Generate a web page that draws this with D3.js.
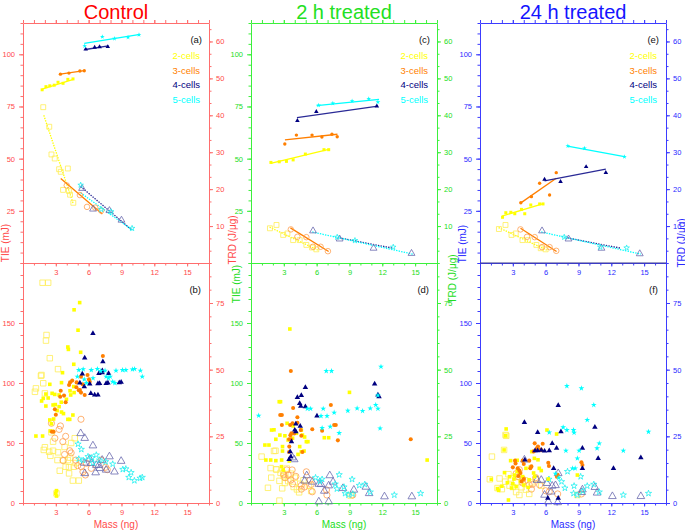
<!DOCTYPE html>
<html><head><meta charset="utf-8">
<script src="https://cdn.jsdelivr.net/npm/d3@7"></script>
<style>
body{margin:0;background:#fff}
svg{display:block}
text{font-family:"Liberation Sans",Arial,sans-serif}
</style>
</head><body>
<svg id="chart" width="685" height="532"></svg>
<script>
// ---------------- DATA ----------------
const cellLabels = ["2-cells", "3-cells", "4-cells", "5-cells"];
const panelTitles = ["Control", "2 h treated", "24 h treated"];
const panelTags = [["(a)", "(b)"], ["(c)", "(d)"], ["(e)", "(f)"]];
const massTicks = [3, 6, 9, 12, 15];
const tieTopTicks = [25, 50, 75, 100];
const trdTopTicks = [10, 20, 30, 40, 50, 60];
const tieBotTicks = [0, 50, 100, 150];
const trdBotTicks = [0, 25, 50, 75];
const xLabel = "Mass (ng)";
const tieLabel = "TIE (mJ)";
const trdLabel = "TRD (J/\u03bcg)";

// ---- Control, top panel (a): [mass, value] per cell-stage (2,3,4,5 cells)
const aTIE = [
  [[1.75,83],[2.1,84.5],[2.45,84.9],[2.85,85.2],[3.2,86.6],[3.66,86.1],[4.1,88],[4.57,88.2]],
  [[3.42,90.5],[4.2,91],[5.2,92],[5.6,92.1]],
  [[5.73,102.4],[6.55,103.3],[7.0,103.5],[7.75,103.6]],
  [[5.64,104],[7.25,108.4],[8.36,107.5],[9.6,108.1],[10.6,109.4]]
];
const aTIEfit = [[1.75,83.3,4.6,88],[3.4,90.5,5.6,92.2],[5.7,102.3,7.8,104],[5.6,105.2,10.7,109.5]];
const aTRD = [
  [[1.85,42.2],[2.4,36.9],[2.6,29.4],[2.9,28.3],[3.3,25.4],[3.45,24.7],[4.1,25.6],[3.66,19.8],[4.2,19.5],[4.3,18.5],[4.6,16.3]],
  [[4.0,21],[5.2,18.4],[5.85,15.2],[6.6,15],[7.15,14.2]],
  [[5.4,20.2],[6.4,14.6],[7.9,14.2],[9.0,11.6]],
  [[5.27,21.1],[7.15,14.5],[8.06,13.9],[9.97,9.4]]
];
const aTRDfit = [[1.9,40,4.6,16],[3.45,22.9,7.25,13.3],[5.27,20.7,9.97,8.9],[5.27,19,10,8.9]];

// ---- Control, bottom panel (b)
const bTIE = [
  [[5.18,167],[4.67,161],[5.03,144],[4.1,130],[4.15,128],[5.27,125.6],[4.64,115.6],[3.61,108.6],[2.45,98.9],[3.52,100.3],[2.66,91.4],[2.09,90.8],[2.9,90.5],[1.85,87.2],[1.7,85],[2.3,87.5],[2.75,81.7],[2.09,80.8],[3.3,80.3],[3.5,84],[4.36,90],[4.67,92],[4.64,97],[4.3,93.5],[3.97,86.4],[3.52,75.8],[3.7,74.5],[3.12,77],[2.8,70],[2.95,82],[4.27,69.7],[4.1,69.7],[2.45,69.2],[2.6,66],[1.18,55.8],[1.79,55.8],[3.0,8.1],[3.06,5.8],[4.56,73.3],[3.06,10.3],[3.3,90],[2.5,60]],
  [[4.21,98.3],[4.3,100.5],[5.3,105.3],[5.9,106.7],[6.03,103],[6.1,101],[5.45,99],[5.2,94.2],[5.3,92],[5.64,90],[3.45,93.6],[3.4,88.5],[3.75,89.5],[2.91,78.1],[3.0,73.5],[2.64,59.4],[2.8,59.4],[4.88,96.4],[4.9,100.5],[5.1,94],[7.3,122.5],[4.5,102],[3.9,84]],
  [[6.39,141.4],[5.64,121],[7.3,117.8],[7.25,110.3],[6.94,108],[7.82,108],[7.24,108.6],[7.6,99.7],[8.97,100.6],[6.1,99.2],[6.85,99.5],[7.0,99.6],[7.76,100],[8.8,100.3],[6.2,91.4],[6.55,90],[6.85,90],[5.42,107.5],[5.2,100],[5.6,97]],
  [[4.97,105.3],[5.1,110.8],[5.5,111.5],[6.24,110.8],[6.8,111.7],[7.1,110],[7.5,110.3],[8.5,110.3],[9.1,110.8],[9.4,110.8],[10.0,111.4],[10.2,111.7],[10.73,110.3],[10.9,105.3],[7.6,105.3],[7.8,104],[8.2,101],[8.4,100],[7.97,105.3],[6.4,104],[5.8,100],[5.6,103]]
];
const bTRD = [
  [[1.79,82.6],[2.3,82.6],[2.15,63],[2.1,60.9],[2.45,54.3],[3.2,50.2],[1.64,47.7],[1.85,44.9],[1.69,48],[1.18,43],[1.09,41.7],[2.0,41.1],[2.75,23],[2.6,26.5],[2.0,20.9],[1.9,19.9],[2.39,19.2],[2.75,19.6],[2.5,17.7],[3.2,19],[3.15,16.1],[3.67,16.1],[4.1,16.1],[3.9,13.6],[4.2,13.4],[4.64,13.6],[3.36,12.1],[4.21,11.1],[4.56,8.4],[5.1,8.4],[4.73,24.3],[4.4,22.5],[3.06,3.6],[4.3,17],[3.8,21],[4.8,15]],
  [[5.3,31.4],[3.42,28.9],[3.3,27.6],[2.91,24.3],[3.64,23],[2.6,29.9],[3.9,25],[4.27,19.6],[3.67,15.9],[4.82,16.1],[5.33,13.6],[5.48,11.7],[5.0,14],[5.79,14.9],[6.24,13],[7.55,13.4],[7.7,12.5],[7.15,16.1],[4.4,18.8],[3.8,18.2],[5.7,10.5]],
  [[5.27,26.1],[5.64,24.3],[6.39,21.5],[7.9,17.4],[8.97,15.7],[8.36,11.7],[6.64,11.4],[6.94,14.2],[7.6,12.4],[7.24,16.1],[6.7,14.2],[6.24,14.9],[5.64,11.1],[7.0,13],[5.6,15],[6.1,16.5]],
  [[5.03,22.1],[5.33,20.1],[5.94,17.4],[6.3,17],[7.0,16.1],[7.55,15.5],[8.2,14.6],[9.12,12.6],[9.4,12.8],[9.88,11.4],[9.67,9.6],[10.18,8.4],[10.7,9.3],[10.9,9.6],[6.7,18],[5.5,16],[5.1,16.5],[6.4,15]]
];

// ---- 2 h treated, top panel (c)
const cTIE = [
  [[1.82,48.2],[2.58,48.5],[3.24,48.7],[3.85,49.4],[4.97,52.2],[6.67,54.3],[7.1,54.3]],
  [[3.09,57],[4.15,61.3],[5.58,61.3],[6.48,60.4],[7.4,61.7],[7.88,60.5]],
  [[4.24,68.2],[5.97,72.5],[11.5,75.2]],
  [[6.18,75.6],[7.48,76.5],[9.24,77.6],[10.76,78.7],[11.6,77.1]]
];
const cTIEfit = [[1.8,47.7,7.1,54.4],[3.1,59,7.9,61.7],[4.2,69.7,11.6,75.2],[6.0,75.4,11.7,78.4]];
const cTRD = [
  [[1.73,9.4],[2.33,10.3],[2.94,7.6],[3.33,8.0],[3.85,6.2],[4.45,6.2],[5.06,4.9],[5.58,4.2],[5.97,3.7]],
  [[3.64,9.1],[4.24,7.1],[5.06,7.0],[5.67,4.4],[6.36,4.4],[7.03,3.2]],
  [[5.67,8.7],[8.1,6.5],[11.2,4.0],[14.67,2.6]],
  [[7.88,7.0],[9.5,6.1],[13.0,4.3]]
];
const cTRDfit = [[1.7,9.7,6.1,3.5],[3.6,9.5,7.1,3.1],[8.1,6.8,13.0,4.0],[5.6,8.4,14.8,2.4]];

// ---- 2 h treated, bottom panel (d)
const dTIE = [
  [[3.55,145],[9.0,92.2],[2.58,84.4],[2.7,84.4],[16.1,35.8],[1.88,60.8],[2.64,56.6],[3.1,56],[2.27,53.1],[1.27,48.3],[1.64,48.3],[1.36,35.8],[1.8,35.8],[2.27,35.3],[2.8,35.8],[2.88,47],[2.88,43.3],[3.39,52.5],[3.8,54],[4.15,58.1],[4.6,60.8],[4.7,56.6],[5.06,51.1],[5.2,51.1],[4.45,47],[4.6,42.7],[4.85,43.3],[6.7,54.4],[7.1,54.4],[2.79,30.3],[2.94,27.5],[3.85,64.2],[3.3,66.4],[2.1,61],[4.9,55],[3.5,35],[4.3,40.5]],
  [[3.64,110],[3.85,79.2],[2.67,73.3],[2.82,73.3],[2.82,65],[3.58,65],[3.8,66.5],[4.24,66.9],[3.7,58.1],[3.95,58],[3.6,56.5],[3.48,53.1],[3.65,53],[4.55,60.8],[4.24,71.4],[5.6,61.4],[6.5,60.3],[7.3,81.7],[7.6,65],[7.75,65],[7.94,52.2],[14.6,53.1],[3.5,47],[3.48,42.5],[4.6,56],[4.7,42.5]],
  [[4.97,96.4],[4.24,88],[4.6,89.7],[4.45,83],[4.55,80.6],[4.97,80.3],[6.03,72.5],[4.0,60.8],[4.1,59.5],[3.7,51.1],[3.58,42.8],[3.64,38.6],[3.48,36.4],[11.3,99.2],[11.7,88.6],[11.6,90],[4.5,64],[4.1,66]],
  [[0.7,72.8],[5.15,78.6],[5.45,78.6],[6.6,78.6],[6.4,72.5],[7.6,75.3],[8.85,76.9],[9.7,78.9],[10.2,76.7],[10.9,78.9],[11.4,81.7],[11.6,78.6],[6.88,110],[7.36,110],[11.88,113.6],[11.6,89.7],[7.24,63.6],[6.5,62.5],[8.06,58.3],[11.8,62.2],[6.95,72.5]]
];
const dTRD = [
  [[0.97,17.4],[2.1,19.5],[2.3,12.6],[1.55,5.7],[2.6,0.9],[2.24,19.6],[1.79,13.1],[2.33,12.6],[2.7,11.3],[2.95,11],[3.27,12.9],[3.64,11],[2.85,5.5],[3.1,7.5],[3.4,8.2],[3.9,6],[4.2,5.1],[4.5,7.2],[4.8,8.5],[5.3,6.5],[5.5,4.5],[2.6,8.3],[3.0,10],[4.0,9.5],[1.85,9.5],[4.4,4],[9.1,2.8]],
  [[3.27,12.4],[3.4,10.5],[3.64,8.6],[3.1,9.5],[3.0,10.6],[3.79,7.2],[4.6,6.6],[4.9,6.0],[5.4,8.6],[5.5,7],[5.6,4.2],[6.94,3.0],[6.9,4.9],[9.3,3.0],[4.6,5.2],[5.06,11.7],[3.76,12.4],[4.1,10]],
  [[5.09,10.3],[7.2,10.3],[4.9,8.3],[5.6,7.9],[6.2,7.1],[7.5,7.9],[7.1,6.5],[6.7,4.5],[8.4,5.5],[9.4,4.9],[10.5,6.0],[10.8,3.6],[6.2,0.5],[7.1,0.5],[12.2,2.4],[14.7,2.4],[3.95,16.3],[3.8,17],[6.4,7]],
  [[8.06,10.6],[9.24,8.9],[6.3,8.2],[7.7,7.1],[7.85,5.3],[8.5,6.0],[8.6,3.6],[8.9,3.0],[9.9,6.6],[10.4,7.0],[10.9,4.1],[13.1,3.0],[15.5,3.6],[9.3,3.4],[6.5,8.9],[5.9,9.5]]
];

// ---- 24 h treated, top panel (e)
const eTIE = [
  [[2.06,21.9],[2.36,24.1],[2.82,24.3],[3.18,23.6],[3.79,25.7],[4.09,23.6],[4.64,27.8],[5.45,28.3],[5.76,28.3]],
  [[3.73,28.9],[4.7,31.8],[5.45,38.2],[6.36,32.6],[6.97,43.3]],
  [[5.9,40.1],[7.36,39.0],[9.7,46.1],[11.5,43.3]],
  [[8.03,56.1],[9.55,55.0],[13.2,50.9]]
];
const eTIEfit = [[2.0,22.5,5.8,28.5],[3.7,28.7,6.97,40.6],[5.9,39.4,11.5,45],[8.0,56,13.2,51]];
const eTRD = [
  [[1.73,9.2],[2.33,10.3],[2.88,7.6],[3.27,8.0],[3.88,6.2],[4.39,6.2],[5.15,4.9],[5.55,4.0],[6.0,3.7]],
  [[3.7,9.1],[4.3,7.1],[5.0,7.0],[5.67,4.3],[6.36,4.3],[6.97,3.3]],
  [[5.67,8.7],[8.09,6.5],[11.1,4.0],[14.6,2.5]],
  [[7.7,7.0],[11.0,4.3],[13.4,4.1]]
];
const eTRDfit = [[1.7,9.6,6.1,3.5],[3.7,9.4,7.0,3.1],[8.0,6.8,12.9,4.0],[5.6,8.4,14.7,2.4]];

// ---- 24 h treated, bottom panel (f)
const fTIE = [
  [[2.39,61.7],[2.35,56],[6.12,60.8],[7.0,57.5],[2.2,44.2],[4.73,42.8],[2.8,35.3],[3.4,35.6],[4.97,37.2],[5.3,36],[1.03,19.7],[2.24,25.3],[2.7,21.9],[3.15,23.3],[4.2,28.9],[4.9,25],[5.42,28.9],[5.6,27],[4.5,19.4],[3.7,18.1],[6.24,20],[8.9,23.3],[2.6,2.5],[3.0,16],[3.3,13.7],[4.0,15],[2.5,17],[1.6,12],[1.7,10.5],[3.6,25.6],[4.6,30],[3.9,22],[2.9,12.5],[5.0,22],[4.4,13],[3.1,20],[2.0,14],[3.4,26.5]],
  [[5.0,49.7],[5.3,47],[5.73,49.4],[5.2,45.6],[5.6,44],[4.9,43],[6.24,33.6],[6.3,30.8],[3.9,35.3],[4.0,32.5],[3.2,35.3],[3.25,33],[3.0,29.7],[3.45,29],[3.6,27],[3.7,25],[4.6,28.9],[4.5,35.3],[7.03,21.9],[7.1,23.5],[9.27,34],[9.36,31.6],[3.5,22.5],[4.0,20],[5.55,44.5],[4.7,30.5],[3.8,18]],
  [[7.15,81.4],[4.06,67.2],[10.5,63.1],[5.27,58.8],[7.4,59.4],[6.6,49.7],[7.0,45.6],[5.03,43.6],[5.27,43.6],[5.9,43.3],[6.33,43.6],[9.36,45.6],[10.8,37.2],[14.7,37.8],[12.2,28.9],[6.73,28.9],[9.36,28.9],[6.2,4.0],[7.15,4.0],[5.6,44],[4.1,36]],
  [[7.94,97.5],[9.27,95.6],[10.4,81.7],[9.8,69.2],[7.6,63.1],[7.94,60.8],[8.55,60.8],[8.6,58.6],[6.33,58.8],[10.9,49.7],[10.7,45.6],[7.85,43.6],[9.06,43.6],[8.9,37.2],[8.45,28.9],[8.7,28.9],[13.1,43.6],[15.4,59.4],[7.2,21],[6.9,24.5]]
];
const fTRD = [
  [[1.09,17.4],[2.4,25.2],[2.33,25.5],[2.2,19.9],[1.79,9.2],[2.0,5.2],[2.7,6.5],[2.85,9.2],[3.3,7.7],[3.8,5.9],[4.5,3.4],[3.3,4.1],[4.7,7.7],[5.1,9.0],[1.6,5.6],[8.9,3.0],[2.6,10.8],[3.5,10.5],[4.1,8.5],[2.3,8],[3.0,6],[4.2,5],[0.9,8.9],[5.6,6.5],[3.6,3]],
  [[3.9,9.0],[4.5,6.8],[4.8,7],[5.45,6.8],[6.0,4.6],[6.33,4.2],[7.1,3.4],[9.27,3.4],[4.7,5.2],[5.1,9.5],[3.5,9.9],[3.3,11],[3.6,12.5],[3.9,7.5]],
  [[4.06,16.2],[7.15,11.1],[5.2,8.6],[5.6,8.6],[6.12,7.4],[6.6,6.4],[6.9,6.6],[6.5,4.2],[5.9,3.0],[6.24,0.5],[7.1,0.2],[10.5,5.9],[9.36,5.0],[10.7,3.8],[12.1,2.5],[14.7,2.5],[9.3,4]],
  [[8.0,11.8],[9.2,9.9],[6.3,8.9],[7.45,8.0],[7.76,5.6],[8.6,6.4],[8.55,3.6],[8.9,3.0],[9.8,6.4],[10.4,7.0],[10.9,4.1],[13.1,3.0],[15.4,3.6],[9.4,4.5]]
];

// ---------------- STYLE ----------------
const themes = [
  {axis: "#ff6e6e", text: "#ff4a4a", title: "#ff0000", mid: "#ff6e6e"},
  {axis: "#3cf03c", text: "#22dd22", title: "#22e022", mid: "#3cf03c"},
  {axis: "#3c3cff", text: "#2a2aff", title: "#1414ff", mid: "#3a3a8a"}
];
const seriesStyle = [
  {fill: "#ffff00", open: "#ffee55", line: "#ffff00", sym: d3.symbolSquare, k: 1.0, kf: 1.0},
  {fill: "#ff7f00", open: "#ffa050", line: "#ff7f00", sym: d3.symbolCircle, k: 1.0, kf: 1.0},
  {fill: "#000080", open: "#6a6aae", line: "#2a2a96", sym: d3.symbolTriangle, k: 0.85, kf: 1.0},
  {fill: "#00ffff", open: "#22f0f0", line: "#00ffff", sym: d3.symbolStar, k: 0.4, kf: 0.8}
];

const columns = [
  {left: 23,  top: [aTIE, aTIEfit, aTRD, aTRDfit], bot: [bTIE, bTRD],
   tieLab: [5, 243], trdLab: [232, 240]},
  {left: 251, top: [cTIE, cTIEfit, cTRD, cTRDfit], bot: [dTIE, dTRD],
   tieLab: [236, 284], trdLab: [452, 279]},
  {left: 480, top: [eTIE, eTIEfit, eTRD, eTRDfit], bot: [fTIE, fTRD],
   tieLab: [462, 244], trdLab: [681, 243]}
];

const svg = d3.select("#chart");
const W = 186, yTop = 23, yMid = 263, yBot = 503;

function styleAxis(g, th, fs) {
  g.selectAll("path.domain").attr("stroke", th.axis).attr("stroke-width", 1);
  g.selectAll(".tick line").attr("stroke", th.axis).attr("stroke-width", 1);
  g.selectAll(".tick text").attr("fill", th.text).attr("font-size", fs || 7.5)
    .attr("font-family", "Liberation Sans, Arial, sans-serif");
}

function addAxis(parent, axisFn, scale, major, minor, fmt, th, tx, ty, majLen, minLen, pad) {
  const gMin = parent.append("g").attr("transform", `translate(${tx},${ty})`)
    .call(axisFn(scale).tickValues(minor).tickSize(minLen).tickSizeOuter(0).tickFormat(""));
  styleAxis(gMin, th);
  const gMaj = parent.append("g").attr("transform", `translate(${tx},${ty})`)
    .call(axisFn(scale).tickValues(major).tickSize(majLen).tickSizeOuter(0).tickPadding(pad)
      .tickFormat(fmt === null ? "" : d3.format("d")));
  styleAxis(gMaj, th);
  gMaj.select("path.domain").remove();
}

function drawPoints(g, pts, xs, ys, st, open, size) {
  g.selectAll(null).data(pts).enter().append("path")
    .attr("d", d3.symbol().type(st.sym).size(size * (open ? st.k : st.kf)))
    .attr("transform", d => `translate(${xs(d[0])},${ys(d[1])})`)
    .attr("fill", open ? "none" : st.fill)
    .attr("stroke", open ? st.open : "none")
    .attr("stroke-width", open ? 0.8 : 0);
}

function drawFit(g, f, xs, ys, color, dashed) {
  g.append("line")
    .attr("x1", xs(f[0])).attr("y1", ys(f[1]))
    .attr("x2", xs(f[2])).attr("y2", ys(f[3]))
    .attr("stroke", color).attr("stroke-width", 1.3)
    .attr("stroke-dasharray", dashed ? "1.4,1.2" : null);
}

columns.forEach((col, ci) => {
  const th = themes[ci];
  const L = col.left, R = L + W;
  const g = svg.append("g");
  const x = d3.scaleLinear().domain([0, 17]).range([L, R]);
  const yTieT = d3.scaleLinear().domain([0, 115]).range([yMid, yTop]);
  const yTrdT = d3.scaleLinear().domain([0, 65]).range([yMid, yTop]);
  const yTieB = d3.scaleLinear().domain([0, 200]).range([yBot, yMid]);
  const yTrdB = d3.scaleLinear().domain([0, 90]).range([yBot, yMid]);
  const xMinor = d3.range(0, 17.001, 1);

  // ----- top panel axes
  addAxis(g, d3.axisTop, x, massTicks, xMinor, null, th, 0, yTop, 3, 3, 3);
  addAxis(g, d3.axisBottom, x, massTicks, xMinor, "d", th, 0, yMid, 3.5, 2.5, 3);
  addAxis(g, d3.axisLeft, yTieT, tieTopTicks, d3.range(0, 115.01, 5), "d", th, L, 0, 4, 2.5, 4);
  addAxis(g, d3.axisRight, yTrdT, trdTopTicks, d3.range(0, 65, 10 / 3), "d", th, R, 0, 4, 2.5, 3);
  // ----- bottom panel axes
  addAxis(g, d3.axisBottom, x, massTicks, xMinor, "d", th, 0, yBot, 3.5, 2.5, 3);
  addAxis(g, d3.axisLeft, yTieB, tieBotTicks, d3.range(0, 200.01, 10), "d", th, L, 0, 4, 2.5, 4);
  addAxis(g, d3.axisRight, yTrdB, trdBotTicks, d3.range(0, 90.01, 5), "d", th, R, 0, 4, 2.5, 3);
  if (ci === 2) {
    g.append("line").attr("x1", L).attr("x2", R).attr("y1", yMid).attr("y2", yMid)
      .attr("stroke", th.mid).attr("stroke-width", 1);
  }

  // ----- top panel data
  const [tie, tieFit, trd, trdFit] = col.top;
  const pt = g.append("g");
  trd.forEach((pts, si) => drawFit(pt, trdFit[si], x, yTrdT, seriesStyle[si].line, si !== 1));
  trd.forEach((pts, si) => drawPoints(pt, pts, x, yTrdT, seriesStyle[si], true, 24));
  tie.forEach((pts, si) => drawFit(pt, tieFit[si], x, yTieT, seriesStyle[si].line, false));
  tie.forEach((pts, si) => drawPoints(pt, pts, x, yTieT, seriesStyle[si], false, 9));

  // ----- bottom panel data
  const [btie, btrd] = col.bot;
  const pb = g.append("g");
  btrd.forEach((pts, si) => drawPoints(pb, pts, x, yTrdB, seriesStyle[si], true, 30));
  btie.forEach((pts, si) => drawPoints(pb, pts, x, yTieB, seriesStyle[si], false, 13));

  // ----- titles, tags, legend
  g.append("text").attr("x", (L + R) / 2).attr("y", 19).attr("text-anchor", "middle")
    .attr("font-size", 20).attr("fill", th.title).text(panelTitles[ci]);
  g.append("text").attr("x", R - 7).attr("y", 43).attr("text-anchor", "end")
    .attr("font-size", 9.5).attr("fill", "#111").text(panelTags[ci][0]);
  g.append("text").attr("x", R - 8).attr("y", 293).attr("text-anchor", "end")
    .attr("font-size", 9.5).attr("fill", "#111").text(panelTags[ci][1]);
  cellLabels.forEach((lab, si) => {
    g.append("text").attr("x", R - 9).attr("y", 59 + si * 14.5).attr("text-anchor", "end")
      .attr("font-size", 9.5).attr("fill", seriesStyle[si].fill).text(lab);
  });

  // ----- axis titles
  g.append("text").attr("x", (L + R) / 2).attr("y", 528).attr("text-anchor", "middle")
    .attr("font-size", 10).attr("fill", th.text).text(xLabel);
  g.append("text").attr("transform", `translate(${col.tieLab[0]},${col.tieLab[1]}) rotate(-90)`)
    .attr("text-anchor", "middle").attr("dominant-baseline", "central")
    .attr("font-size", 10).attr("fill", th.text).text(tieLabel);
  g.append("text").attr("transform", `translate(${col.trdLab[0]},${col.trdLab[1]}) rotate(-90)`)
    .attr("text-anchor", "middle").attr("dominant-baseline", "central")
    .attr("font-size", 10).attr("fill", th.text).text(trdLabel);
});
</script>
</body></html>
